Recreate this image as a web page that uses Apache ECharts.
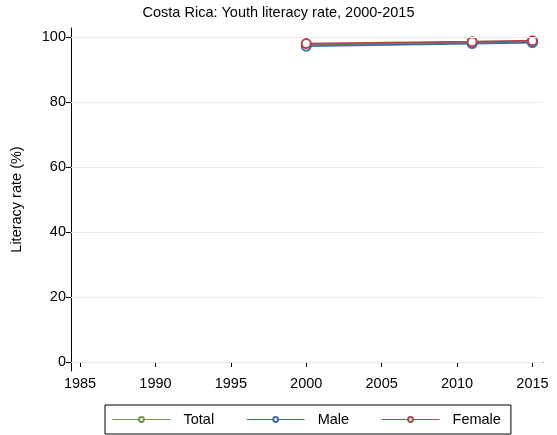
<!DOCTYPE html>
<html><head><meta charset="utf-8">
<script src="https://cdn.jsdelivr.net/npm/echarts@6/dist/echarts.min.js"></script>
<style>html,body{margin:0;padding:0;background:#fff}#c{width:557px;height:435px}</style>
</head><body><div id="c"></div>
<script>
var years = [2000, 2011, 2015];
var total = [97.6, 98.3, 98.6];
var male = [97.2, 98.0, 98.3];
var female = [98.0, 98.6, 98.9];
var xTicks = [1985, 1990, 1995, 2000, 2005, 2010, 2015];
var yTicks = [0, 20, 40, 60, 80, 100];
var names = ['Total', 'Male', 'Female'];
var colors = ['#6a9a44', '#3d6ea4', '#b5434f'];
var values = [total, male, female];

function pairs(v){ return years.map(function(y,i){ return [y, v[i]]; }); }

var chart = echarts.init(document.getElementById('c'), null, {renderer:'canvas'});
var font = 'Liberation Sans, Arial, sans-serif';
var fs = 14.5;
chart.setOption({
  animation:false,
  textStyle:{fontFamily:font},
  title:{text:'Costa Rica: Youth literacy rate, 2000-2015', left:'center', top:5, padding:0,
    textStyle:{fontSize:fs, fontWeight:'normal', color:'#000', fontFamily:font}},
  grid:{left:71, right:14, top:28, bottom:64},
  xAxis:{type:'value', min:1984.4, max:2015.7,
    axisLine:{lineStyle:{color:'#000', width:1}},
    axisTick:{show:true, length:5, customValues:xTicks, lineStyle:{color:'#000'}},
    axisLabel:{customValues:xTicks, color:'#000', fontSize:fs, margin:5, fontFamily:font,
      formatter:function(v){ return String(v); }},
    splitLine:{show:false}},
  yAxis:{type:'value', min:-2.77, max:102.8,
    name:'Literacy rate (%)', nameLocation:'middle', nameGap:47, nameRotate:90,
    nameTextStyle:{color:'#000', fontSize:fs, fontFamily:font},
    axisLine:{show:true, lineStyle:{color:'#000', width:1}},
    axisTick:{show:true, length:5, customValues:yTicks, lineStyle:{color:'#000'}},
    axisLabel:{customValues:yTicks, color:'#000', fontSize:fs, margin:5, fontFamily:font},
    splitLine:{show:false}},
  legend:{left:105, top:405, data:names, itemWidth:58, itemHeight:6, itemGap:32,
    padding:[7,10,7,7], borderColor:'#000', borderWidth:1,
    itemStyle:{borderWidth:1}, lineStyle:{width:1},
    textStyle:{color:'#000', fontSize:fs, fontFamily:font, padding:[0,0,0,8]}},
  series: names.map(function(n,i){
    return {name:n, type:'line', data:pairs(values[i]), symbol:'emptyCircle', symbolSize:9,
      color:colors[i], lineStyle:{width:1.8, color:colors[i]},
      itemStyle:{color:colors[i], borderColor:colors[i], borderWidth:1.5},
      markLine: i===0 ? {silent:true, symbol:'none', label:{show:false},
        lineStyle:{color:'#eaeaea', width:1, type:'solid'},
        data: yTicks.map(function(t){ return {yAxis:t}; })} : undefined,
      z: 2+i};
  })
});
</script></body></html>
